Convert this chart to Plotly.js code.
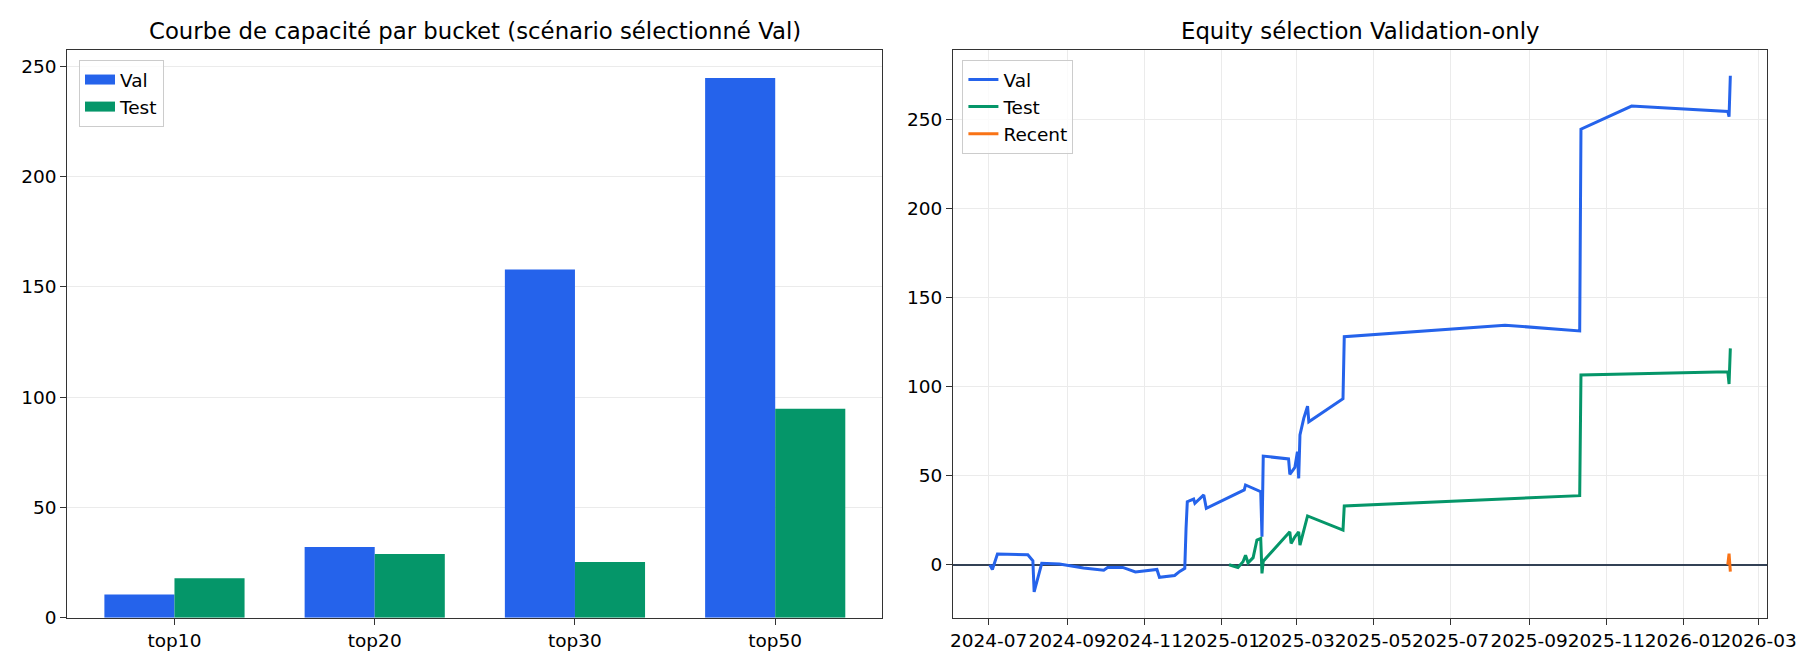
<!DOCTYPE html>
<html>
<head>
<meta charset="utf-8">
<script src="https://cdn.plot.ly/plotly-3.0.1.min.js"></script>
<style>
  html, body { margin: 0; padding: 0; background: white; }
  #chart { width: 1820px; height: 672px; }
</style>
</head>
<body>
<div id="chart"></div>
<script>
// ---------------------------------------------------------------------------
// capacity per bucket (left)
// ---------------------------------------------------------------------------
var buckets = ["top10", "top20", "top30", "top50"];
var capVal  = [10.5, 32.1, 157.9, 244.7];
var capTest = [17.9, 28.9, 25.3, 94.7];

// ---------------------------------------------------------------------------
// equity curves (right)
// ---------------------------------------------------------------------------
var valDates = [
  "2024-07-02", "2024-07-04", "2024-07-08", "2024-08-01", "2024-08-05", "2024-08-06",
  "2024-08-12", "2024-08-26", "2024-09-14", "2024-09-30", "2024-10-03", "2024-10-15",
  "2024-10-25", "2024-11-11", "2024-11-13", "2024-11-25", "2024-11-29", "2024-12-03",
  "2024-12-04", "2024-12-05", "2024-12-10", "2024-12-11", "2024-12-18", "2024-12-20",
  "2025-01-19", "2025-01-20", "2025-02-01", "2025-02-02", "2025-02-03", "2025-02-23",
  "2025-02-24", "2025-02-28", "2025-03-02", "2025-03-03", "2025-03-04", "2025-03-07",
  "2025-03-10", "2025-03-11", "2025-04-07", "2025-04-08", "2025-08-13", "2025-10-11",
  "2025-10-12", "2025-11-21", "2026-02-05", "2026-02-06", "2026-02-07"
];
var valEquity = [
  0, -2.6, 6.0, 5.6, 2.2, -15.2,
  0.8, 0.4, -1.8, -3.0, -1.5, -1.5,
  -4.0, -2.6, -7.0, -6.0, -3.7, -2.0,
  20.4, 35.4, 36.9, 34.5, 39.2, 31.7,
  42.0, 44.8, 41.0, 15.7, 61.0, 59.4,
  50.8, 54.7, 63.5, 48.5, 72.9, 82.2,
  89.0, 80.3, 93.2, 128.0, 134.5, 131.3,
  244.5, 257.5, 254.5, 251.5, 274.5
];

var testDates = [
  "2025-01-07", "2025-01-14", "2025-01-18", "2025-01-20", "2025-01-22", "2025-01-26",
  "2025-01-29", "2025-02-01", "2025-02-02", "2025-02-03", "2025-02-24", "2025-02-25",
  "2025-02-28", "2025-03-03", "2025-03-04", "2025-03-10", "2025-04-07", "2025-04-08",
  "2025-10-11", "2025-10-12", "2026-02-05", "2026-02-06", "2026-02-07"
];
var testEquity = [
  0, -1.5, 1.7, 5.4, 1.1, 4.0,
  13.9, 14.8, -4.8, 2.0, 18.5, 12.0,
  15.7, 18.5, 11.0, 27.4, 19.5, 33.0,
  38.8, 106.6, 108.3, 101.5, 121.5
];

var recentDates  = ["2026-02-05", "2026-02-06", "2026-02-07"];
var recentEquity = [0, 6.3, -3.8];

var BLUE = "#2563eb", GREEN = "#059669", ORANGE = "#f97316";
var AXIS = "#333333", GRID = "#ebebeb";
var FONT = "DejaVu Sans, sans-serif";

var data = [
  { type: "bar", x: buckets, y: capVal, name: "Val", showlegend: false,
    marker: { color: BLUE }, xaxis: "x", yaxis: "y" },
  { type: "bar", x: buckets, y: capTest, name: "Test", showlegend: false,
    marker: { color: GREEN }, xaxis: "x", yaxis: "y" },
  // legend-only entries so the left legend shows wide patches like the bars
  { type: "scatter", mode: "lines", x: [null], y: [null], name: "Val",
    line: { color: BLUE, width: 13 }, xaxis: "x", yaxis: "y", legend: "legend" },
  { type: "scatter", mode: "lines", x: [null], y: [null], name: "Test",
    line: { color: GREEN, width: 13 }, xaxis: "x", yaxis: "y", legend: "legend" },
  { type: "scatter", mode: "lines", x: valDates, y: valEquity, name: "Val",
    line: { color: BLUE, width: 3 }, xaxis: "x2", yaxis: "y2", legend: "legend2" },
  { type: "scatter", mode: "lines", x: testDates, y: testEquity, name: "Test",
    line: { color: GREEN, width: 3 }, xaxis: "x2", yaxis: "y2", legend: "legend2" },
  { type: "scatter", mode: "lines", x: recentDates, y: recentEquity, name: "Recent",
    line: { color: ORANGE, width: 3 }, xaxis: "x2", yaxis: "y2", legend: "legend2" }
];

function axisBase() {
  return {
    showline: true, linecolor: AXIS, linewidth: 1.4, mirror: true,
    ticks: "outside", ticklen: 6, tickwidth: 1.4, tickcolor: AXIS,
    tickfont: { size: 18.5, color: "#000", family: FONT },
    gridcolor: GRID, gridwidth: 1.3, zeroline: false
  };
}

var xL = Object.assign(axisBase(), {
  domain: [0.037, 0.4848], anchor: "y", type: "category",
  range: [-0.535, 3.535], showgrid: false
});
var yL = Object.assign(axisBase(), {
  domain: [0.0808, 0.9257], anchor: "x",
  range: [0, 257.4], tickvals: [0, 50, 100, 150, 200, 250], showgrid: true
});
var xR = Object.assign(axisBase(), {
  domain: [0.5237, 0.9709], anchor: "y2", type: "date",
  range: ["2024-06-03", "2026-03-08"], tick0: "2024-07-01", dtick: "M2",
  tickformat: "%Y-%m", tickangle: 0, showgrid: true
});
var yR = Object.assign(axisBase(), {
  domain: [0.0808, 0.9257], anchor: "x2",
  range: [-29.7, 289], tickvals: [0, 50, 100, 150, 200, 250], showgrid: true,
  zeroline: true, zerolinecolor: "#334155", zerolinewidth: 1.6
});

var legendBase = {
  yanchor: "top", xanchor: "left", y: 0.9107,
  bgcolor: "rgba(255,255,255,0.8)", bordercolor: "#cccccc", borderwidth: 1,
  font: { size: 18.5, color: "#000", family: FONT }, tracegroupgap: 0
};

var layout = {
  width: 1820, height: 672,
  margin: { l: 0, r: 0, t: 0, b: 0 },
  paper_bgcolor: "white", plot_bgcolor: "white",
  font: { family: FONT, color: "#000" },
  barmode: "group", bargap: 0.3, bargroupgap: 0,
  xaxis: xL, yaxis: yL, xaxis2: xR, yaxis2: yR,
  legend: Object.assign({}, legendBase, { x: 0.0434 }),
  legend2: Object.assign({}, legendBase, { x: 0.5288 }),
  annotations: [
    { text: "Courbe de capacité par bucket (scénario sélectionné Val)",
      xref: "paper", yref: "paper", x: (0.037 + 0.4848) / 2, y: 0.954,
      xanchor: "center", yanchor: "middle", showarrow: false,
      font: { size: 22.8, family: FONT, color: "#000" } },
    { text: "Equity sélection Validation-only",
      xref: "paper", yref: "paper", x: (0.5237 + 0.9709) / 2, y: 0.954,
      xanchor: "center", yanchor: "middle", showarrow: false,
      font: { size: 22.8, family: FONT, color: "#000" } }
  ]
};

Plotly.newPlot("chart", data, layout, { displayModeBar: false, responsive: false });
</script>
</body>
</html>
